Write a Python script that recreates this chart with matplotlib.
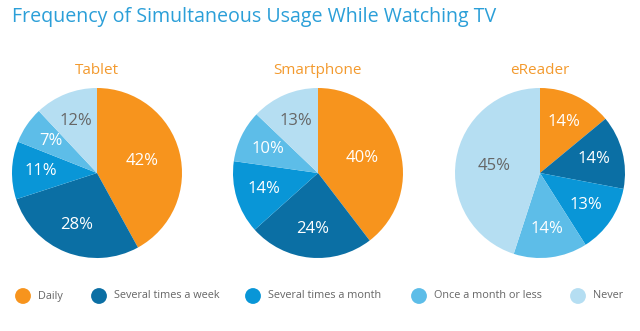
import matplotlib
matplotlib.use('Agg')
import matplotlib.pyplot as plt

plt.rcParams['font.family'] = ['Open Sans', 'DejaVu Sans']

categories = ['Daily', 'Several times a week', 'Several times a month',
              'Once a month or less', 'Never']
devices = ['Tablet', 'Smartphone', 'eReader']
tablet = [42, 28, 11, 7, 12]
smartphone = [40, 24, 14, 10, 13]
ereader = [14, 14, 13, 14, 45]

colors = ['#F7941D', '#0B6FA4', '#0996D7', '#5DBDE8', '#B5DEF2']
label_colors = ['white', 'white', 'white', 'white', '#666666']

W, H = 640, 331
fig = plt.figure(figsize=(W / 100, H / 100), dpi=100)
fig.patch.set_facecolor('white')

fig.text(12 / W, 1 - 17 / H, 'Frequency of Simultaneous Usage While Watching TV',
         color='#2B9FD8', fontsize=14.1, va='center', ha='left')

centers = [97, 318, 540]
radius = 85
for cx, name, vals in zip(centers, devices, [tablet, smartphone, ereader]):
    ax = fig.add_axes([(cx - radius) / W, 1 - (173 + radius) / H,
                       2 * radius / W, 2 * radius / H])
    wedges, texts = ax.pie(vals, colors=colors, startangle=90,
                           counterclock=False, labels=[f'{v}%' for v in vals],
                           labeldistance=0.66,
                           wedgeprops=dict(linewidth=0))
    for t, c, v in zip(texts, label_colors, vals):
        # big slices keep their label nearer the middle
        if v >= 35:
            x, y = t.get_position()
            t.set_position((x * 0.55 / 0.66, y * 0.55 / 0.66))
        t.set_color(c)
        t.set_fontsize(12)
        t.set_ha('center')
        t.set_va('center')
    ax.set_aspect('equal')
    ax.set_xlim(-1, 1)
    ax.set_ylim(-1, 1)
    fig.text(cx / W, 1 - 70 / H, name, color='#F39A2E', fontsize=11,
             ha='center', va='center')

# legend row, laid out in pixel units
lg = fig.add_axes([0, 0, 1, 1], zorder=-1)
lg.set_xlim(0, W)
lg.set_ylim(H, 0)
lg.axis('off')
marker_x = [23, 99, 253, 419, 578]
for mx, c, name in zip(marker_x, colors, categories):
    lg.scatter([mx], [296], s=130, color=c, edgecolors='none')
    lg.text(mx + 15, 296, name, fontsize=7.8, color='#666666',
            ha='left', va='center')

fig.savefig('out.png', dpi=100)
